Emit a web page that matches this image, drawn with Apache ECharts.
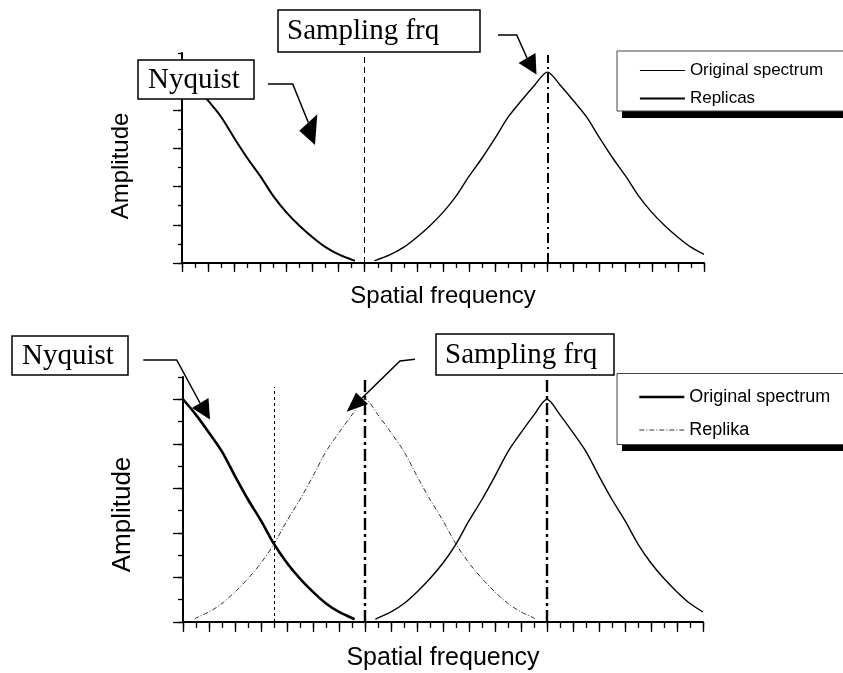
<!DOCTYPE html>
<html>
<head>
<meta charset="utf-8">
<script src="https://cdn.jsdelivr.net/npm/echarts@6/dist/echarts.min.js"></script>
<style>
html,body{margin:0;padding:0;background:#fff;}
#chart{width:843px;height:673px;}
</style>
</head>
<body>
<div id="chart"></div>
<script>
// ---------- DATA ----------
// Top panel (sampling at 2x bandwidth)
const topOrigX = [0,1,2,3,4,5,6,7,8,9,10,11,12,13,13.25];
const topOrigY = [1.00,0.93,0.85,0.765,0.655,0.55,0.455,0.35,0.265,0.195,0.135,0.083,0.045,0.018,0.012];
const topRepX  = [14.75,15,16,17,18,19,20,21,22,23,24,25,26,27,28,29,30,31,32,33,34,35,36,37,38,39,40];
const topRepY  = [0.012,0.018,0.045,0.083,0.135,0.195,0.265,0.35,0.455,0.55,0.655,0.765,0.85,0.93,1.00,0.93,0.85,0.765,0.655,0.55,0.455,0.35,0.265,0.195,0.135,0.083,0.045];
// Bottom panel (undersampled, aliasing)
const botOrigX = [0,1,2,3,4,5,6,7,8,9,10,11,12,13,13.2];
const botOrigY = [1.00,0.93,0.85,0.765,0.655,0.55,0.455,0.35,0.265,0.195,0.135,0.083,0.045,0.018,0.012];
const botRepX  = [0.9,1,2,3,4,5,6,7,8,9,10,11,12,13,14,15,16,17,18,19,20,21,22,23,24,25,26,27,27.1];
const botRepY  = [0.012,0.018,0.045,0.083,0.135,0.195,0.265,0.35,0.455,0.55,0.655,0.765,0.85,0.93,1.00,0.93,0.85,0.765,0.655,0.55,0.455,0.35,0.265,0.195,0.135,0.083,0.045,0.018,0.012];
const botRep2X = [14.8,15,16,17,18,19,20,21,22,23,24,25,26,27,28,29,30,31,32,33,34,35,36,37,38,39,40];
const botRep2Y = [0.012,0.018,0.045,0.083,0.135,0.195,0.265,0.35,0.455,0.55,0.655,0.765,0.85,0.93,1.00,0.93,0.85,0.765,0.655,0.55,0.455,0.35,0.265,0.195,0.135,0.083,0.045];
// Reference frequencies
const topNyquist = 14, topSampling = 28;
const botNyquist = 7, botSampling = 14, botSampling2 = 28;
const xMin = 0, xMax = 40, yMin = 0, yMax = 1.1;
const yMajorTicks = [0,0.2,0.4,0.6,0.8,1.0];
const vTop = 1.09, vTopDot = 1.055;

// ---------- CHART ----------
const SANS = "'Liberation Sans', Arial, sans-serif";
const SERIF = "'Liberation Serif', 'Times New Roman', serif";
const pairs = (xs, ys) => xs.map((x, i) => [x, ys[i]]);
const SMOOTH = 0.3;
const NOSYM = {opacity: 0, color: 'transparent', borderWidth: 0};

function xAxes(grid, name, fontSize, nameGap, minorLen, majorLen) {
  return [
    {gridIndex: grid, type: 'value', min: xMin, max: xMax, interval: 1, position: 'bottom',
     axisLine: {show: true, lineStyle: {color: '#000', width: 2}},
     axisTick: {show: true, length: minorLen, lineStyle: {color: '#000', width: 1.3}},
     axisLabel: {show: false}, splitLine: {show: false},
     name: name, nameLocation: 'middle', nameGap: nameGap,
     nameTextStyle: {fontFamily: SANS, fontSize: fontSize, color: '#000'}},
    {gridIndex: grid, type: 'value', min: xMin, max: xMax, interval: 2, position: 'bottom',
     axisLine: {show: false},
     axisTick: {show: true, length: majorLen, lineStyle: {color: '#000', width: 1.3}},
     axisLabel: {show: false}, splitLine: {show: false}}
  ];
}
function yAxes(grid, name, fontSize, nameGap, pad, minorLen, majorLen) {
  return [
    {gridIndex: grid, type: 'value', min: yMin, max: yMax, interval: 0.1, position: 'left',
     axisLine: {show: true, lineStyle: {color: '#000', width: 2}},
     axisTick: {show: true, length: minorLen, lineStyle: {color: '#000', width: 1.3}},
     axisLabel: {show: false}, splitLine: {show: false},
     name: name, nameLocation: 'middle', nameGap: nameGap, nameRotate: 90,
     nameTextStyle: {fontFamily: SANS, fontSize: fontSize, color: '#000', padding: pad}},
    {gridIndex: grid, type: 'value', min: yMin, max: yMax, interval: 0.2, position: 'left',
     axisLine: {show: false},
     axisTick: {show: true, length: majorLen, customValues: yMajorTicks, lineStyle: {color: '#000', width: 1.3}},
     axisLabel: {show: false}, splitLine: {show: false}}
  ];
}
function vline(x, top, style) {
  return {silent: true, symbol: ['none', 'none'], label: {show: false},
    lineStyle: style, data: [[{coord: [x, 0]}, {coord: [x, top]}]]};
}

const chart = echarts.init(document.getElementById('chart'));
const option = {
  backgroundColor: '#fff',
  animation: false,
  grid: [
    {left: 182, top: 53, width: 522, height: 210},
    {left: 183, top: 377, width: 520, height: 245}
  ],
  xAxis: [].concat(xAxes(0, 'Spatial frequency', 24, 21, 5, 9), xAxes(1, 'Spatial frequency', 25, 24, 6, 10)),
  yAxis: [].concat(yAxes(0, 'Amplitude', 24, 49, [0, 16, 0, 0], 4, 9), yAxes(1, 'Amplitude', 26, 47, [0, 30, 0, 0], 5, 10)),
  legend: [
    {left: 639, top: 62, orient: 'vertical', padding: 0, itemWidth: 45, itemHeight: 14, itemGap: 11,
     selectedMode: false, z: 10, textStyle: {fontFamily: SANS, fontSize: 17, color: '#000'},
     data: [
       {name: 'Original spectrum', itemStyle: NOSYM, lineStyle: {color: '#000', width: 1.2, type: 'solid'}},
       {name: 'Replicas', itemStyle: NOSYM, lineStyle: {color: '#000', width: 1.8, type: 'solid'}}
     ]},
    {left: 638, top: 388, orient: 'vertical', padding: 0, itemWidth: 45, itemHeight: 14, itemGap: 15,
     selectedMode: false, z: 10, textStyle: {fontFamily: SANS, fontSize: 18, color: '#000'},
     data: [
       {name: 'Original spectrum', itemStyle: NOSYM, lineStyle: {color: '#000', width: 2.6, type: 'solid'}},
       {name: 'Replika', itemStyle: NOSYM, lineStyle: {color: '#333', width: 1, type: [5, 2, 1, 2]}}
     ]}
  ],
  series: [
    {name: 'Original spectrum', type: 'line', xAxisIndex: 0, yAxisIndex: 0, data: pairs(topOrigX, topOrigY),
     smooth: SMOOTH, showSymbol: false, symbol: 'none', lineStyle: {color: '#000', width: 2}, itemStyle: {color: '#000'},
     markLine: vline(topNyquist, vTop, {color: '#000', width: 1, type: [6, 4]})},
    {name: 'Replicas', type: 'line', xAxisIndex: 0, yAxisIndex: 0, data: pairs(topRepX, topRepY),
     smooth: SMOOTH, showSymbol: false, symbol: 'none', lineStyle: {color: '#000', width: 1.4}, itemStyle: {color: '#000'},
     markLine: vline(topSampling, vTop, {color: '#000', width: 2, type: [10, 4, 2, 4]})},
    {name: 'Original spectrum', type: 'line', xAxisIndex: 2, yAxisIndex: 2, data: pairs(botOrigX, botOrigY),
     smooth: SMOOTH, showSymbol: false, symbol: 'none', lineStyle: {color: '#000', width: 2.6}, itemStyle: {color: '#000'},
     markLine: vline(botNyquist, vTopDot, {color: '#000', width: 1, type: [3, 3]})},
    {name: 'Replika', type: 'line', xAxisIndex: 2, yAxisIndex: 2, data: pairs(botRepX, botRepY),
     smooth: SMOOTH, showSymbol: false, symbol: 'none', lineStyle: {color: '#333', width: 1, type: [5, 2, 1, 2]}, itemStyle: {color: '#333'},
     markLine: vline(botSampling, vTop, {color: '#000', width: 2.4, type: [12, 4, 3, 4]})},
    {name: 'Replika 2', type: 'line', xAxisIndex: 2, yAxisIndex: 2, data: pairs(botRep2X, botRep2Y),
     smooth: SMOOTH, showSymbol: false, symbol: 'none', lineStyle: {color: '#000', width: 1.4}, itemStyle: {color: '#000'},
     markLine: vline(botSampling2, vTop, {color: '#000', width: 2.4, type: [12, 4, 3, 4]})}
  ],
  graphic: [
    // legend frames with shadow
    {type: 'rect', z: 5, silent: true, shape: {x: 622, y: 57, width: 240, height: 61}, style: {fill: '#000'}},
    {type: 'rect', z: 6, silent: true, shape: {x: 617, y: 51, width: 240, height: 60}, style: {fill: '#fff', stroke: '#444', lineWidth: 1}},
    {type: 'rect', z: 5, silent: true, shape: {x: 622, y: 380, width: 240, height: 71}, style: {fill: '#000'}},
    {type: 'rect', z: 6, silent: true, shape: {x: 617, y: 373.5, width: 240, height: 71}, style: {fill: '#fff', stroke: '#444', lineWidth: 1}},
    // callout boxes
    {type: 'rect', z: 20, silent: true, shape: {x: 278, y: 10, width: 202, height: 42}, style: {fill: '#fff', stroke: '#000', lineWidth: 1.5}},
    {type: 'text', z: 21, silent: true, style: {text: 'Sampling frq', x: 287, y: 31, fill: '#000', fontFamily: SERIF, fontSize: 29, textVerticalAlign: 'middle', verticalAlign: 'middle'}},
    {type: 'rect', z: 20, silent: true, shape: {x: 138, y: 60, width: 116, height: 39}, style: {fill: '#fff', stroke: '#000', lineWidth: 1.5}},
    {type: 'text', z: 21, silent: true, style: {text: 'Nyquist', x: 148, y: 80, fill: '#000', fontFamily: SERIF, fontSize: 29, textVerticalAlign: 'middle', verticalAlign: 'middle'}},
    {type: 'rect', z: 20, silent: true, shape: {x: 12, y: 336, width: 116, height: 39}, style: {fill: '#fff', stroke: '#000', lineWidth: 1.5}},
    {type: 'text', z: 21, silent: true, style: {text: 'Nyquist', x: 22, y: 356, fill: '#000', fontFamily: SERIF, fontSize: 29, textVerticalAlign: 'middle', verticalAlign: 'middle'}},
    {type: 'rect', z: 20, silent: true, shape: {x: 436, y: 334, width: 178, height: 41}, style: {fill: '#fff', stroke: '#000', lineWidth: 1.5}},
    {type: 'text', z: 21, silent: true, style: {text: 'Sampling frq', x: 445, y: 355, fill: '#000', fontFamily: SERIF, fontSize: 29, textVerticalAlign: 'middle', verticalAlign: 'middle'}},
    // arrows
    {type: 'polyline', z: 20, silent: true, shape: {points: [[268, 84], [292.7, 84], [308.3, 122.5]]}, style: {stroke: '#000', lineWidth: 1.5, fill: null}},
    {type: 'polygon', z: 20, silent: true, shape: {points: [[299.3, 130.7], [317.3, 114.3], [315, 145]]}, style: {fill: '#000'}},
    {type: 'polyline', z: 20, silent: true, shape: {points: [[498, 35], [516.7, 35], [527, 58]]}, style: {stroke: '#000', lineWidth: 1.5, fill: null}},
    {type: 'polygon', z: 20, silent: true, shape: {points: [[518.5, 63], [535.5, 53], [536.5, 74.5]]}, style: {fill: '#000'}},
    {type: 'polyline', z: 20, silent: true, shape: {points: [[143.3, 360], [176.7, 360], [200, 403]]}, style: {stroke: '#000', lineWidth: 1.5, fill: null}},
    {type: 'polygon', z: 20, silent: true, shape: {points: [[192, 408], [208.5, 398], [210, 419.5]]}, style: {fill: '#000'}},
    {type: 'polyline', z: 20, silent: true, shape: {points: [[415, 359.3], [400, 361], [362, 398]]}, style: {stroke: '#000', lineWidth: 1.5, fill: null}},
    {type: 'polygon', z: 20, silent: true, shape: {points: [[356, 392.5], [368, 404], [346.7, 411.7]]}, style: {fill: '#000'}}
  ]
};
chart.setOption(option);
</script>
</body>
</html>
